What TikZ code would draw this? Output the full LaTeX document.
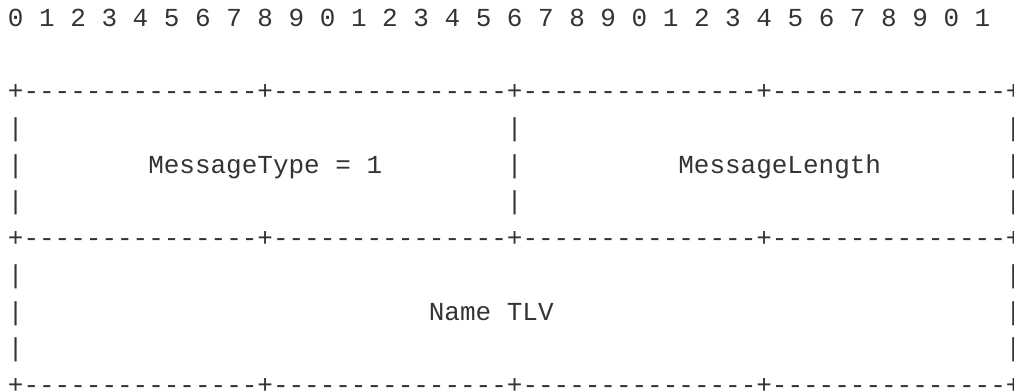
\documentclass[tikz,border=0pt]{standalone}
\usepackage{fontspec}
\setmonofont{Liberation Mono}
\definecolor{inkgray}{RGB}{51,51,51}

\begin{document}
\begin{tikzpicture}[x=11.6925pt,y=-27.5625pt]
\tikzset{asc/.style={font=\ttfamily\fontsize{19.49pt}{27.56pt}\selectfont,text=inkgray,inner sep=0pt,anchor=base west}}
\useasboundingbox (-0.4939,-0.7075) rectangle (64.548,9.932);
\node[asc] (bits) at (0,0) {0 1 2 3 4 5 6 7 8 9 0 1 2 3 4 5 6 7 8 9 0 1 2 3 4 5 6 7 8 9 0 1};
\foreach \r in {2,6,10}
  \node[asc] (rule\r) at (0,\r) {+---------------+---------------+---------------+---------------+};
\foreach \r in {3,4,5} {
  \node[asc] (left\r) at (0,\r) {|};
  \node[asc] (split\r) at (32,\r) {|};
  \node[asc] (right\r) at (64,\r) {|};
}
\foreach \r in {7,8,9} {
  \node[asc] (left\r) at (0,\r) {|};
  \node[asc] (right\r) at (64,\r) {|};
}
\node[asc] (msgtype) at (9,4) {MessageType = 1};
\node[asc] (msglen) at (43,4) {MessageLength};
\node[asc] (nametlv) at (27,8) {Name TLV};
\end{tikzpicture}
\end{document}
